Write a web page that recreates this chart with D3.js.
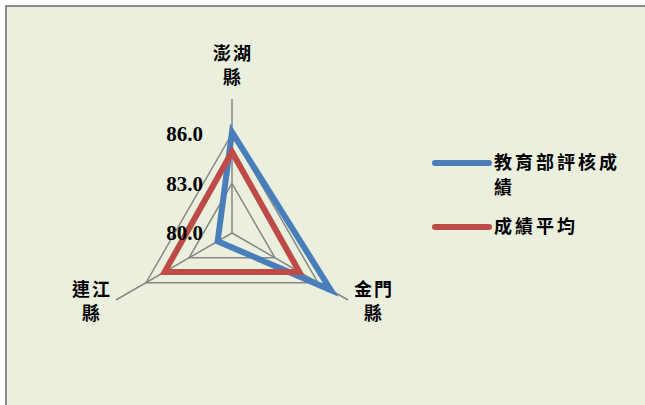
<!DOCTYPE html>
<html>
<head>
<meta charset="utf-8">
<script src="https://cdn.jsdelivr.net/npm/d3@7"></script>
<style>
  body { margin: 0; background: #fff; }
  svg { display: block; }
</style>
</head>
<body>
<svg id="radar"></svg>
<script>
// chart data
const axes = [["澎湖", "縣"], ["金門", "縣"], ["連江", "縣"]];
const seriesNames = [["教育部評核成", "績"], ["成績平均"]];
const scoreMoe = [86.1, 86.9, 81.0];
const scoreAvg = [84.9, 84.7, 84.7];
const tickValues = [80, 83, 86];
const tickLabels = ["80.0", "83.0", "86.0"];

const width = 645;
const height = 405;
const cx = 232, cy = 233;
const rMax = 134;
const colors = ["#4a7ebb", "#be4b48"];
const cjk = "'Noto Sans CJK TC', 'Noto Sans CJK SC', sans-serif";

const svg = d3.select("#radar")
  .attr("width", width)
  .attr("height", height);

// chart area background + border (open on right / bottom)
svg.append("rect")
  .attr("x", 5).attr("y", 5)
  .attr("width", width).attr("height", height)
  .attr("fill", "#ebf0de");
svg.append("path")
  .attr("d", `M6,${height} V6 H${width}`)
  .attr("fill", "none")
  .attr("stroke", "#8a8a8a")
  .attr("stroke-width", 2);

const rScale = d3.scaleLinear()
  .domain([80, 88.1])
  .range([0, rMax]);

const angle = i => i * 2 * Math.PI / axes.length; // 0 = up, clockwise

const g = svg.append("g")
  .attr("transform", `translate(${cx},${cy})`);

const radial = d3.lineRadial()
  .angle((d, i) => angle(i))
  .radius(d => rScale(d))
  .curve(d3.curveLinearClosed);

// grid rings
g.selectAll(".ring")
  .data(tickValues.filter(v => v > rScale.domain()[0]))
  .enter()
  .append("path")
  .attr("class", "ring")
  .attr("d", v => radial(axes.map(() => v)))
  .attr("fill", "none")
  .attr("stroke", "#878787")
  .attr("stroke-width", 1.5);

// spokes
g.selectAll(".spoke")
  .data(axes)
  .enter()
  .append("line")
  .attr("class", "spoke")
  .attr("x1", 0).attr("y1", 0)
  .attr("x2", (d, i) => rMax * Math.sin(angle(i)))
  .attr("y2", (d, i) => -rMax * Math.cos(angle(i)))
  .attr("stroke", "#878787")
  .attr("stroke-width", 1.5);

// series
[scoreMoe, scoreAvg].forEach((vals, s) => {
  g.append("path")
    .attr("d", radial(vals))
    .attr("fill", "none")
    .attr("stroke", colors[s])
    .attr("stroke-width", 6)
    .attr("stroke-linejoin", "miter");
});

// tick labels along the top axis (drawn over the lines)
g.selectAll(".tick")
  .data(tickValues)
  .enter()
  .append("text")
  .attr("class", "tick")
  .attr("x", -29)
  .attr("y", v => -rScale(v))
  .attr("dy", "0.35em")
  .attr("text-anchor", "end")
  .attr("font-family", "'Liberation Serif', 'Times New Roman', serif")
  .attr("font-weight", "bold")
  .attr("font-size", 21)
  .attr("fill", "#000")
  .text((v, i) => tickLabels[i]);

// category labels
axes.forEach((lines, i) => {
  const ex = rMax * Math.sin(angle(i));
  const ey = -rMax * Math.cos(angle(i));
  let lx = ex, ly;
  if (Math.abs(ex) > 1) {
    lx = ex + Math.sign(ex) * 25;
    ly = ey + 2;
  } else {
    ly = ey - 33;
  }
  const t = g.append("text")
    .attr("text-anchor", "middle")
    .attr("font-family", cjk)
    .attr("font-weight", "bold")
    .attr("font-size", 18)
    .attr("letter-spacing", 2)
    .attr("fill", "#000");
  lines.forEach((s, k) => {
    t.append("tspan")
      .attr("x", lx + 1)
      .attr("y", ly + (k - (lines.length - 1) / 2) * 24)
      .attr("dy", "0.35em")
      .text(s);
  });
});

// legend
const legend = svg.append("g")
  .attr("transform", "translate(435,163)");
const legendY = [0, 64];
seriesNames.forEach((lines, s) => {
  legend.append("line")
    .attr("x1", 0).attr("x2", 54)
    .attr("y1", legendY[s]).attr("y2", legendY[s])
    .attr("stroke", colors[s])
    .attr("stroke-width", 6)
    .attr("stroke-linecap", "round");
  const t = legend.append("text")
    .attr("font-family", cjk)
    .attr("font-weight", "bold")
    .attr("font-size", 18)
    .attr("letter-spacing", 3)
    .attr("fill", "#000");
  lines.forEach((str, k) => {
    t.append("tspan")
      .attr("x", 59)
      .attr("y", legendY[s] + k * 25)
      .attr("dy", "0.35em")
      .text(str);
  });
});
</script>
</body>
</html>
